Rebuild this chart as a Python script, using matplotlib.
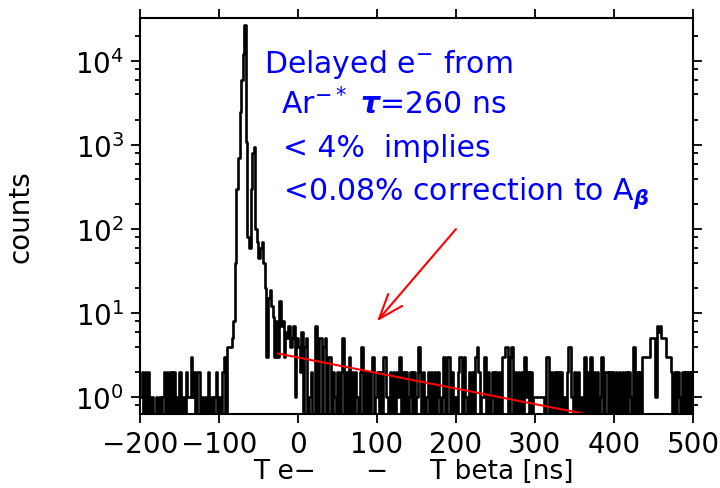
import numpy as np
import matplotlib
matplotlib.use("Agg")
import matplotlib.pyplot as plt
from matplotlib.ticker import LogLocator, NullFormatter, MultipleLocator

plt.rcParams['font.family'] = ['DejaVu Sans']
plt.rcParams['mathtext.default'] = 'regular'

# histogram: 2 ns bins from -200 to 500 ns
bin_lo, bin_hi, bin_w = -200, 500, 2

# bins centred -199 ... -85
counts_pre = [1, 2, 0, 2, 0, 2, 0, 1, 0, 0,
              1, 0, 1, 0, 1, 2, 0, 2, 0, 2,
              0, 2, 0, 1, 0, 2, 0, 1, 0, 2,
              1, 1, 3, 1, 2, 0, 2, 2, 0, 1,
              0, 1, 0, 2, 0, 1, 0, 1, 2, 0,
              1, 0, 2, 3, 0, 4, 4, 4]
# bins centred -83 ... -45 (prompt peak)
counts_peak = [5, 8, 40, 300, 700, 2500, 6000, 12000, 27000, 1100,
               80, 60, 300, 800, 950, 100, 70, 45, 60, 70]
# bins centred -43 ... -1
counts_tail = [40, 20, 3, 15, 19, 12, 9, 3, 8, 3,
               14, 7, 8, 3, 6, 5, 7, 4, 5, 7,
               1, 5]
# bins centred 1 ... 499
counts_flat = [4, 2, 6, 0, 4, 5, 0, 1, 2, 0,
               0, 7, 0, 5, 5, 0, 4, 5, 0, 3,
               3, 0, 2, 1, 0, 2, 0, 2, 5, 0,
               2, 0, 3, 0, 2, 0, 2, 1, 0, 2,
               4, 0, 2, 0, 2, 0, 2, 3, 0, 1,
               2, 0, 2, 0, 3, 3, 1, 0, 2, 0,
               2, 0, 2, 1, 3, 0, 2, 0, 2, 0,
               1, 2, 0, 2, 0, 1, 4, 2, 0, 2,
               0, 1, 2, 0, 2, 0, 2, 0, 2, 1,
               0, 1, 3, 0, 3, 3, 0, 2, 0, 1,
               0, 2, 3, 3, 0, 3, 1, 0, 2, 0,
               2, 0, 3, 4, 2, 0, 1, 1, 3, 0,
               2, 0, 1, 2, 0, 2, 0, 2, 0, 3,
               3, 4, 4, 0, 3, 4, 0, 2, 0, 2,
               0, 2, 0, 3, 1, 2, 0, 2, 0, 1,
               1, 1, 1, 1, 1, 1, 0, 3, 3, 0,
               2, 0, 2, 0, 2, 0, 2, 0, 1, 0,
               2, 4, 4, 1, 0, 2, 0, 2, 0, 1,
               0, 3, 0, 2, 0, 3, 0, 2, 0, 2,
               0, 1, 3, 0, 2, 2, 0, 2, 0, 2,
               0, 2, 0, 2, 0, 2, 0, 2, 0, 2,
               1, 0, 4, 0, 2, 0, 2, 0, 3, 3,
               3, 3, 3, 5, 5, 5, 1, 7, 6, 7,
               5, 5, 5, 3, 3, 3, 2, 0, 2, 0,
               2, 1, 0, 2, 0, 2, 0, 2, 0, 2]

# exponential fit (tau = 260 ns), end points
fit_t = [-25, 360]
fit_counts = [3.3, 0.64]

# arrow tail / head (data coords)
arrow_from = (200, 100)
arrow_to = (100, 8)

note_lines = [r"Delayed e$^{-}$ from",
              r"Ar$^{-*}$ $\boldsymbol{\tau}$=260 ns",
              r"< 4%  implies",
              r"<0.08% correction to A$_{\boldsymbol{\beta}}$"]

counts = np.array(counts_pre + counts_peak + counts_tail + counts_flat, dtype=float)
edges = np.arange(bin_lo, bin_hi + bin_w, bin_w)
assert len(edges) == len(counts) + 1

fig = plt.figure(figsize=(7.2, 4.89), dpi=100)
ax = fig.add_axes([0.1944, 0.1513, 0.7681, 0.8098])

ax.set_yscale('log')
ax.step(edges, np.append(counts, counts[-1]), where='post', color='black', lw=1.9)
ax.plot(fit_t, fit_counts, color='red', lw=1.5)
ax.annotate('', xy=arrow_to, xytext=arrow_from,
            arrowprops=dict(arrowstyle='->, head_length=0.9, head_width=0.33',
                            color='red', lw=1.5, mutation_scale=20,
                            shrinkA=0, shrinkB=0))

ax.set_xlim(-200, 500)
ax.set_ylim(0.63, 3.25e4)

ax.xaxis.set_major_locator(MultipleLocator(100))
ax.yaxis.set_major_locator(LogLocator(base=10))
ax.yaxis.set_minor_locator(LogLocator(base=10, subs=[2, 4, 6, 8]))
ax.yaxis.set_minor_formatter(NullFormatter())

ax.tick_params(which='both', direction='out', top=True, right=True,
               labelsize=20, width=1.3, color='black')
ax.tick_params(which='major', length=6.5, pad=5)
ax.tick_params(which='minor', length=3.5)
for sp in ax.spines.values():
    sp.set_linewidth(1.5)

ax.set_xlabel('T e\u2212      \u2212     T beta [ns]', fontsize=19)
ax.xaxis.set_label_coords(0.495, -0.11)
ax.set_ylabel('counts', fontsize=20)
ax.yaxis.set_label_coords(-0.19, 0.5)

text_pos = [(0.224, 0.864), (0.255, 0.758), (0.259, 0.652), (0.259, 0.543)]
for (tx, ty), line in zip(text_pos, note_lines):
    ax.text(tx, ty, line, transform=ax.transAxes, color='#0000ff',
            fontsize=21.5, ha='left', va='baseline')

fig.savefig('out.png', dpi=100)
